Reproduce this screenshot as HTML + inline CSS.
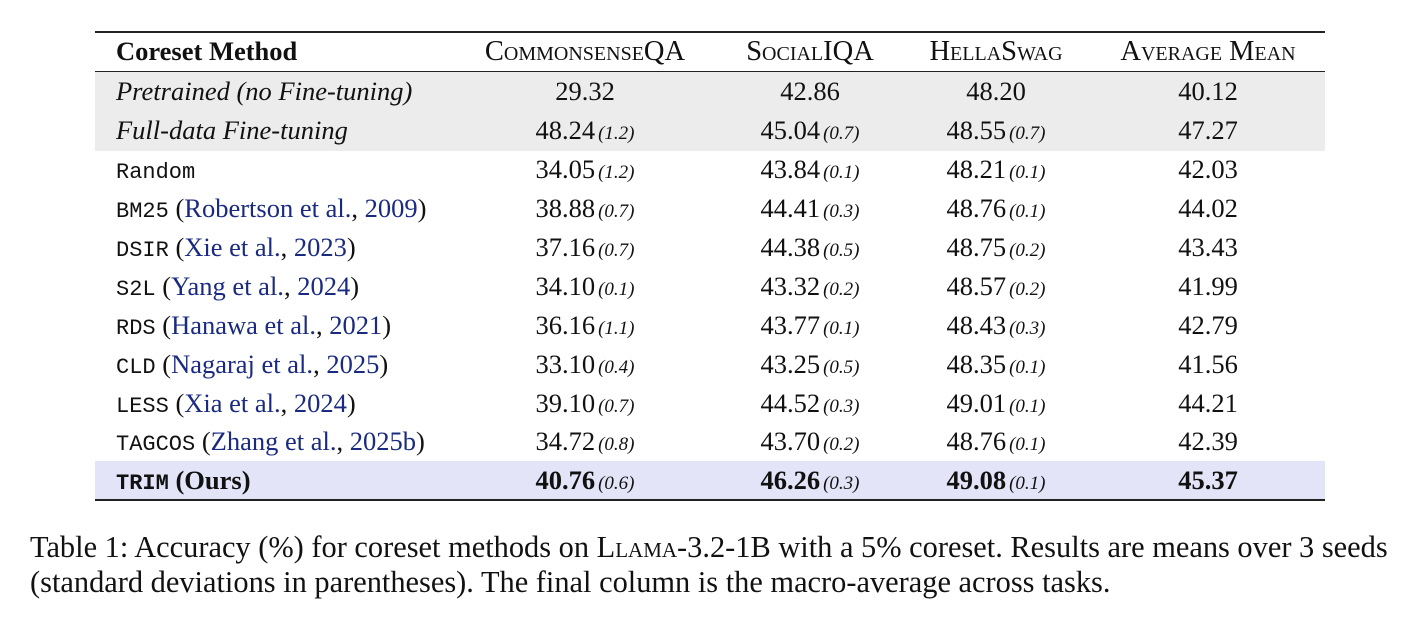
<!DOCTYPE html>
<html><head><meta charset="utf-8"><style>
body{margin:0;width:1419px;height:631px;background:#fff;position:relative;font-family:"Liberation Serif",serif;color:#111;overflow:hidden}
.r{position:absolute;left:95px;width:1230px;height:39px}
.c{position:absolute;top:0;height:39px;line-height:39px;font-size:26.5px;white-space:nowrap}
.l{left:21px}
.n{transform:translateX(-50%)}
.s{font-family:"Liberation Serif",serif;font-style:italic;font-size:19px;margin-left:3px}
.m{font-family:"Liberation Mono",monospace;font-size:22px}
.b{color:#1a2a80}
.sc{font-variant:small-caps}
.h{font-size:28.5px}
.hr{position:absolute;left:95px;width:1230px;background:#222}
.cap{position:absolute;left:30px;font-size:30.4px;line-height:35px;top:530px;width:1389px;white-space:nowrap}
</style></head><body>
<div class="hr" style="top:31px;height:2px"></div>
<div class="hr" style="top:71px;height:1.5px"></div>
<div class="hr" style="top:499px;height:2px"></div>
<div style="position:absolute;left:95px;top:72px;width:1230px;height:79px;background:#ececec"></div>
<div style="position:absolute;left:95px;top:461px;width:1230px;height:38px;background:#e4e4f8"></div>

<div class="r" style="top:32px"><div class="c l"><b>Coreset Method</b></div>
<div class="c n sc h" style="left:490px">CommonsenseQA</div><div class="c n sc h" style="left:715px">SocialIQA</div><div class="c n sc h" style="left:901px">HellaSwag</div><div class="c n sc h" style="left:1113px">Average Mean</div></div>

<div class="r" style="top:72px"><div class="c l"><i>Pretrained (no Fine-tuning)</i></div>
<div class="c n" style="left:490px">29.32</div><div class="c n" style="left:715px">42.86</div><div class="c n" style="left:901px">48.20</div><div class="c n" style="left:1113px">40.12</div></div>

<div class="r" style="top:111px"><div class="c l"><i>Full-data Fine-tuning</i></div>
<div class="c n" style="left:490px">48.24<span class="s">(1.2)</span></div><div class="c n" style="left:715px">45.04<span class="s">(0.7)</span></div><div class="c n" style="left:901px">48.55<span class="s">(0.7)</span></div><div class="c n" style="left:1113px">47.27</div></div>

<div class="r" style="top:150px"><div class="c l"><span class="m">Random</span></div>
<div class="c n" style="left:490px">34.05<span class="s">(1.2)</span></div><div class="c n" style="left:715px">43.84<span class="s">(0.1)</span></div><div class="c n" style="left:901px">48.21<span class="s">(0.1)</span></div><div class="c n" style="left:1113px">42.03</div></div>

<div class="r" style="top:189px"><div class="c l"><span class="m">BM25</span> (<span class="b">Robertson et al.</span>, <span class="b">2009</span>)</div>
<div class="c n" style="left:490px">38.88<span class="s">(0.7)</span></div><div class="c n" style="left:715px">44.41<span class="s">(0.3)</span></div><div class="c n" style="left:901px">48.76<span class="s">(0.1)</span></div><div class="c n" style="left:1113px">44.02</div></div>

<div class="r" style="top:228px"><div class="c l"><span class="m">DSIR</span> (<span class="b">Xie et al.</span>, <span class="b">2023</span>)</div>
<div class="c n" style="left:490px">37.16<span class="s">(0.7)</span></div><div class="c n" style="left:715px">44.38<span class="s">(0.5)</span></div><div class="c n" style="left:901px">48.75<span class="s">(0.2)</span></div><div class="c n" style="left:1113px">43.43</div></div>

<div class="r" style="top:267px"><div class="c l"><span class="m">S2L</span> (<span class="b">Yang et al.</span>, <span class="b">2024</span>)</div>
<div class="c n" style="left:490px">34.10<span class="s">(0.1)</span></div><div class="c n" style="left:715px">43.32<span class="s">(0.2)</span></div><div class="c n" style="left:901px">48.57<span class="s">(0.2)</span></div><div class="c n" style="left:1113px">41.99</div></div>

<div class="r" style="top:306px"><div class="c l"><span class="m">RDS</span> (<span class="b">Hanawa et al.</span>, <span class="b">2021</span>)</div>
<div class="c n" style="left:490px">36.16<span class="s">(1.1)</span></div><div class="c n" style="left:715px">43.77<span class="s">(0.1)</span></div><div class="c n" style="left:901px">48.43<span class="s">(0.3)</span></div><div class="c n" style="left:1113px">42.79</div></div>

<div class="r" style="top:345px"><div class="c l"><span class="m">CLD</span> (<span class="b">Nagaraj et al.</span>, <span class="b">2025</span>)</div>
<div class="c n" style="left:490px">33.10<span class="s">(0.4)</span></div><div class="c n" style="left:715px">43.25<span class="s">(0.5)</span></div><div class="c n" style="left:901px">48.35<span class="s">(0.1)</span></div><div class="c n" style="left:1113px">41.56</div></div>

<div class="r" style="top:384px"><div class="c l"><span class="m">LESS</span> (<span class="b">Xia et al.</span>, <span class="b">2024</span>)</div>
<div class="c n" style="left:490px">39.10<span class="s">(0.7)</span></div><div class="c n" style="left:715px">44.52<span class="s">(0.3)</span></div><div class="c n" style="left:901px">49.01<span class="s">(0.1)</span></div><div class="c n" style="left:1113px">44.21</div></div>

<div class="r" style="top:422px"><div class="c l"><span class="m">TAGCOS</span> (<span class="b">Zhang et al.</span>, <span class="b">2025b</span>)</div>
<div class="c n" style="left:490px">34.72<span class="s">(0.8)</span></div><div class="c n" style="left:715px">43.70<span class="s">(0.2)</span></div><div class="c n" style="left:901px">48.76<span class="s">(0.1)</span></div><div class="c n" style="left:1113px">42.39</div></div>

<div class="r" style="top:461px"><div class="c l"><b><span class="m">TRIM</span> (Ours)</b></div>
<div class="c n" style="left:490px"><b>40.76</b><span class="s">(0.6)</span></div><div class="c n" style="left:715px"><b>46.26</b><span class="s">(0.3)</span></div><div class="c n" style="left:901px"><b>49.08</b><span class="s">(0.1)</span></div><div class="c n" style="left:1113px"><b>45.37</b></div></div>

<div class="cap">Table 1: Accuracy (%) for coreset methods on <span class="sc">Llama</span>-3.2-1B with a 5% coreset. Results are means over 3 seeds<br>(standard deviations in parentheses). The final column is the macro-average across tasks.</div>
</body></html>
